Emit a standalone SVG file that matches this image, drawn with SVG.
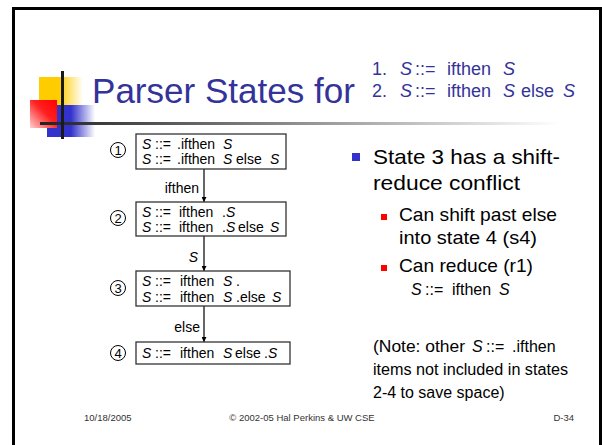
<svg xmlns="http://www.w3.org/2000/svg" width="602" height="445" viewBox="0 0 602 445">
  <style>
    .sans { font-family: "Liberation Sans", Arial, sans-serif; }
    .title { font-size: 35px; fill: #333399; }
    .rule { font-size: 18px; fill: #333399; }
    .item { font-size: 14px; fill: #000; }
    .num { font-size: 13px; fill: #000; text-anchor: middle; }
    .lbl { font-size: 14px; fill: #000; text-anchor: end; }
    .b1 { font-size: 21px; fill: #000; }
    .b2 { font-size: 19px; fill: #000; }
    .note { font-size: 16px; fill: #000; }
    .foot { font-size: 9.5px; fill: #333; }
    .it { font-style: italic; }
    .box { fill: #fff; stroke: #333; stroke-width: 1.3; }
    .circ { fill: none; stroke: #000; stroke-width: 1; }
    .edge { stroke: #000; stroke-width: 1.2; fill: none; marker-end: url(#head); }
  </style>
  <defs>
    <marker id="head" viewBox="0 0 8 8" refX="8" refY="4" markerWidth="5" markerHeight="5" markerUnits="userSpaceOnUse" orient="auto">
      <path d="M0,0 L8,4 L0,8 z" fill="#000"/>
    </marker>
    <linearGradient id="gYellow" x1="0" y1="0" x2="1" y2="0">
      <stop offset="0" stop-color="#FFCC00"/>
      <stop offset="0.45" stop-color="#FFCC00"/>
      <stop offset="1" stop-color="#FFCC00" stop-opacity="0"/>
    </linearGradient>
    <linearGradient id="gBlue" x1="0" y1="0" x2="1" y2="0">
      <stop offset="0" stop-color="#3333CC"/>
      <stop offset="0.5" stop-color="#3333CC"/>
      <stop offset="1" stop-color="#3333CC" stop-opacity="0"/>
    </linearGradient>
    <linearGradient id="gRed" x1="1" y1="0" x2="0" y2="1">
      <stop offset="0" stop-color="#FF0000"/>
      <stop offset="0.45" stop-color="#FF2020"/>
      <stop offset="1" stop-color="#FFD0D0"/>
    </linearGradient>
    <linearGradient id="gRule" gradientUnits="userSpaceOnUse" x1="40" y1="0" x2="560" y2="0">
      <stop offset="0" stop-color="#222"/>
      <stop offset="1" stop-color="#fff"/>
    </linearGradient>
  </defs>

  <!-- slide frame -->
  <rect x="13.5" y="8.5" width="587" height="460" fill="none" stroke="#000" stroke-width="3"/>

  <!-- title ornament -->
  <g id="ornament">
    <rect x="39" y="77" width="44" height="28" fill="url(#gYellow)"/>
    <rect x="47" y="105" width="48" height="32" fill="url(#gBlue)"/>
    <rect x="30" y="100" width="27" height="28" fill="url(#gRed)"/>
    <rect x="40" y="122" width="520" height="3" fill="url(#gRule)"/>
    <rect x="61" y="71" width="3" height="68" fill="#1a1a1a"/>
  </g>

  <!-- title and grammar -->
  <g id="title">
    <text class="sans title" x="92" y="103" textLength="263" lengthAdjust="spacingAndGlyphs">Parser States for</text>
  </g>
  <g id="grammar" class="sans rule">
    <text x="372" y="75">1.</text>
    <text y="75"><tspan class="it" x="400">S</tspan><tspan x="415">::=</tspan><tspan x="447">ifthen</tspan><tspan class="it" x="503">S</tspan></text>
    <text x="372" y="97">2.</text>
    <text y="97"><tspan class="it" x="400">S</tspan><tspan x="415">::=</tspan><tspan x="447">ifthen</tspan><tspan class="it" x="503">S</tspan><tspan x="521">else</tspan><tspan class="it" x="563">S</tspan></text>
  </g>

  <!-- connectors -->
  <g id="connectors">
    <line class="edge" x1="204" y1="169" x2="204" y2="202"/>
    <line class="edge" x1="204" y1="236" x2="204" y2="271"/>
    <line class="edge" x1="204" y1="306" x2="204" y2="342"/>
    <text class="sans lbl" x="199" y="193">ifthen</text>
    <text class="sans lbl it" x="198" y="262">S</text>
    <text class="sans lbl" x="200" y="332">else</text>
  </g>

  <!-- state 1 -->
  <g id="state1">
    <circle class="circ" cx="118" cy="150" r="7.5"/>
    <text class="sans num" x="118" y="155">1</text>
    <rect class="box" x="136" y="134" width="150" height="35"/>
    <text class="sans item" y="149"><tspan class="it" x="142">S</tspan><tspan x="155">::=</tspan><tspan x="177">.ifthen</tspan><tspan class="it" x="223">S</tspan></text>
    <text class="sans item" y="164"><tspan class="it" x="142">S</tspan><tspan x="155">::=</tspan><tspan x="177">.ifthen</tspan><tspan class="it" x="223">S</tspan><tspan x="236">else</tspan><tspan class="it" x="270">S</tspan></text>
  </g>

  <!-- state 2 -->
  <g id="state2">
    <circle class="circ" cx="118" cy="218" r="7.5"/>
    <text class="sans num" x="118" y="223">2</text>
    <rect class="box" x="136" y="202" width="150" height="34"/>
    <text class="sans item" y="217"><tspan class="it" x="142">S</tspan><tspan x="155">::=</tspan><tspan x="179">ifthen</tspan><tspan x="222">.</tspan><tspan class="it" x="226">S</tspan></text>
    <text class="sans item" y="232"><tspan class="it" x="142">S</tspan><tspan x="155">::=</tspan><tspan x="179">ifthen</tspan><tspan x="222">.</tspan><tspan class="it" x="226">S</tspan><tspan x="238">else</tspan><tspan class="it" x="270">S</tspan></text>
  </g>

  <!-- state 3 -->
  <g id="state3">
    <circle class="circ" cx="118" cy="288" r="7.5"/>
    <text class="sans num" x="118" y="293">3</text>
    <rect class="box" x="136" y="271" width="154" height="35"/>
    <text class="sans item" y="286"><tspan class="it" x="142">S</tspan><tspan x="155">::=</tspan><tspan x="180">ifthen</tspan><tspan class="it" x="223">S</tspan><tspan x="236">.</tspan></text>
    <text class="sans item" y="302"><tspan class="it" x="142">S</tspan><tspan x="155">::=</tspan><tspan x="180">ifthen</tspan><tspan class="it" x="223">S</tspan><tspan x="236">.else</tspan><tspan class="it" x="272">S</tspan></text>
  </g>

  <!-- state 4 -->
  <g id="state4">
    <circle class="circ" cx="118" cy="353" r="7.5"/>
    <text class="sans num" x="118" y="358">4</text>
    <rect class="box" x="136" y="342" width="154" height="22"/>
    <text class="sans item" y="358"><tspan class="it" x="142">S</tspan><tspan x="155">::=</tspan><tspan x="180">ifthen</tspan><tspan class="it" x="223">S</tspan><tspan x="235">else</tspan><tspan x="264">.</tspan><tspan class="it" x="268">S</tspan></text>
  </g>

  <!-- explanation -->
  <g id="bullets" class="sans">
    <rect x="352" y="153" width="8" height="8" fill="#3333CC"/>
    <text class="b1" x="373" y="164" textLength="187" lengthAdjust="spacingAndGlyphs">State 3 has a shift-</text>
    <text class="b1" x="373" y="190" textLength="147" lengthAdjust="spacingAndGlyphs">reduce conflict</text>
    <rect x="381" y="214" width="6" height="6" fill="#FF0000"/>
    <text class="b2" x="399" y="221" textLength="158" lengthAdjust="spacingAndGlyphs">Can shift past else</text>
    <text class="b2" x="399" y="244" textLength="138" lengthAdjust="spacingAndGlyphs">into state 4 (s4)</text>
    <rect x="381" y="265" width="6" height="6" fill="#FF0000"/>
    <text class="b2" x="399" y="272" textLength="134" lengthAdjust="spacingAndGlyphs">Can reduce (r1)</text>
    <text class="note" y="295"><tspan class="it" x="411">S</tspan><tspan x="425">::=</tspan><tspan x="452">ifthen</tspan><tspan class="it" x="499">S</tspan></text>
  </g>

  <g id="note" class="sans note">
    <text y="352"><tspan x="373" textLength="92" lengthAdjust="spacingAndGlyphs">(Note: other</tspan><tspan class="it" x="472">S</tspan><tspan x="486">::=</tspan><tspan x="512">.ifthen</tspan></text>
    <text x="373" y="375" textLength="195" lengthAdjust="spacingAndGlyphs">items not included in states</text>
    <text x="373" y="398">2-4 to save space)</text>
  </g>

  <!-- footer -->
  <g id="footer" class="sans foot">
    <text x="84" y="421">10/18/2005</text>
    <text x="302" y="421" text-anchor="middle">© 2002-05 Hal Perkins &amp; UW CSE</text>
    <text x="574" y="421" text-anchor="end">D-34</text>
  </g>
</svg>
